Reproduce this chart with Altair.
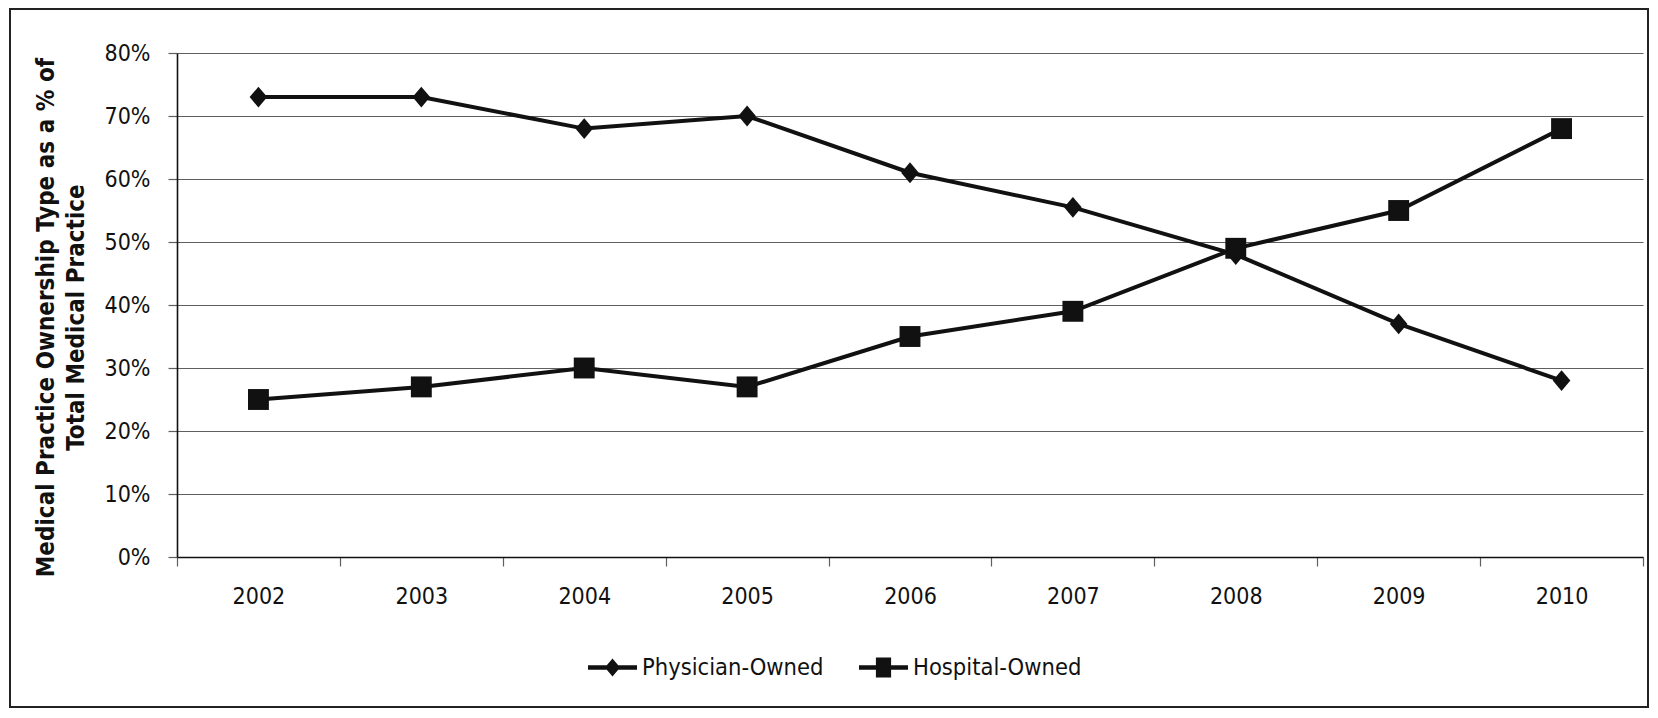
import altair as alt
import pandas as pd

# ---- data ----
years = [2002, 2003, 2004, 2005, 2006, 2007, 2008, 2009, 2010]
physician_owned = [0.73, 0.73, 0.68, 0.70, 0.61, 0.555, 0.48, 0.37, 0.28]
hospital_owned = [0.25, 0.27, 0.30, 0.27, 0.35, 0.39, 0.49, 0.55, 0.68]
series_names = ["Physician-Owned", "Hospital-Owned"]
y_ticks = [0, 0.1, 0.2, 0.3, 0.4, 0.5, 0.6, 0.7, 0.8]
y_title = ["Medical Practice Ownership Type as a % of", "Total Medical Practice"]

rows = []
for name, vals in zip(series_names, [physician_owned, hospital_owned]):
    for yr, v in zip(years, vals):
        rows.append({"year": yr, "share": v, "series": name})
df = pd.DataFrame(rows)

W, H = 1466, 504
FONT = "DejaVu Sans Condensed, Liberation Sans Narrow, sans-serif"
GRID = "#5f5f5f"
INK = "#111111"

# category boundaries (Excel-style ticks between years) plus the year centres
x_bounds = [yr - 0.5 for yr in years] + [years[-1] + 0.5]
x_values = sorted(years + x_bounds)

x_enc = alt.X(
    "year:Q",
    scale=alt.Scale(domain=[years[0] - 0.5, years[-1] + 0.5], nice=False, zero=False),
    axis=alt.Axis(
        values=x_values,
        labelExpr="datum.value % 1 == 0 ? toString(datum.value) : ''",
        tickOpacity={"condition": {"test": "datum.value % 1 == 0", "value": 0}, "value": 1},
        tickSize=9,
        tickColor=GRID,
        tickWidth=1.2,
        labelPadding=19,
        labelFlush=False,
        labelOverlap=False,
        grid=False,
        domainColor=INK,
        domainWidth=1.6,
        title=None,
        labelFont=FONT,
        labelFontSize=23,
        labelColor=INK,
    ),
)

y_enc = alt.Y(
    "share:Q",
    scale=alt.Scale(domain=[0, 0.8], nice=False),
    axis=alt.Axis(
        values=y_ticks,
        format=".0%",
        grid=True,
        gridColor=GRID,
        gridWidth=1.2,
        tickColor=GRID,
        tickWidth=1.2,
        tickSize=9,
        labelPadding=18,
        domainColor=INK,
        domainWidth=1.6,
        labelFont=FONT,
        labelFontSize=23,
        labelColor=INK,
        title=y_title,
        titleFont=FONT,
        titleFontSize=24,
        titleFontWeight="bold",
        titleColor=INK,
        titleLineHeight=30,
        titleX=-131,
        titleY=264,
        titleAngle=270,
        titleAlign="center",
        titleBaseline="middle",
    ),
)

diamond = "M0,-0.95L0.8,0L0,0.95L-0.8,0Z"
square = "M-0.95,-0.95L0.95,-0.95L0.95,0.95L-0.95,0.95Z"
legend_diamond = ("M-1,-0.09L1,-0.09L1,0.09L-1,0.09Z"
                  "M0,-0.37L0.31,0L0,0.37L-0.31,0Z")
legend_square = ("M-1,-0.09L1,-0.09L1,0.09L-1,0.09Z"
                 "M-0.31,-0.41L0.31,-0.41L0.31,0.41L-0.31,0.41Z")

lines = alt.Chart(df).mark_line(color=INK, strokeWidth=4).encode(
    x=x_enc, y=y_enc, detail="series:N"
)

points = alt.Chart(df).mark_point(filled=True, color=INK, opacity=1, size=484).encode(
    x=x_enc,
    y=y_enc,
    shape=alt.Shape(
        "series:N",
        scale=alt.Scale(domain=series_names, range=[diamond, square]),
        legend=None,
    ),
)

legend_layer = (
    alt.Chart(df)
    .transform_filter("false")
    .mark_point(filled=True, color=INK, opacity=1)
    .encode(
        x=x_enc,
        y=y_enc,
        shape=alt.Shape(
            "series:N",
            scale=alt.Scale(domain=series_names, range=[legend_diamond, legend_square]),
            legend=alt.Legend(
                orient="none",
                legendX=411,
                legendY=590,
                direction="horizontal",
                title=None,
                symbolSize=2401,
                symbolStrokeWidth=0,
                symbolFillColor=INK,
                symbolOpacity=1,
                labelFont=FONT,
                labelFontSize=23.5,
                labelColor=INK,
                labelOffset=5,
                labelLimit=400,
                columnPadding=35,
            ),
        ),
    )
)

frame = alt.Chart(pd.DataFrame({"f": [0]})).mark_rect(
    filled=False, fill=None, stroke="#222222", strokeWidth=2
).encode(
    x=alt.value(-167),
    x2=alt.value(W + 5),
    y=alt.value(-44),
    y2=alt.value(H + 150),
)

chart = (
    alt.layer(frame, lines, points, legend_layer)
    .resolve_scale(shape="independent")
    .properties(
        width=W,
        height=H,
        autosize=alt.AutoSizeParams(type="none"),
        padding={"left": 169, "top": 45, "right": 7, "bottom": 153},
        background="white",
    )
    .configure_view(stroke=None)
)

chart.save("out.html", embed_options={"renderer": "svg", "actions": False})
